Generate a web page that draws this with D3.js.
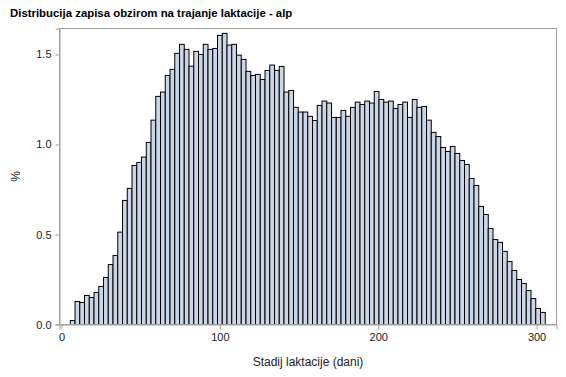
<!DOCTYPE html>
<html>
<head>
    <meta charset="utf-8">
    <script src="https://d3js.org/d3.v7.min.js"></script>
    <style>
      body { margin: 0; background: #fff; }
      text { font-family: "Liberation Sans", Arial, sans-serif; }
    </style>
</head>
<body>
    <script>
      // bin midpoints (days), each bin is 3 days wide
      const binMids = [7, 10, 13, 16, 19, 22, 25, 28, 31, 34,
        37, 40, 43, 46, 49, 52, 55, 58, 61, 64,
        67, 70, 73, 76, 79, 82, 85, 88, 91, 94,
        97, 100, 103, 106, 109, 112, 115, 118, 121, 124,
        127, 130, 133, 136, 139, 142, 145, 148, 151, 154,
        157, 160, 163, 166, 169, 172, 175, 178, 181, 184,
        187, 190, 193, 196, 199, 202, 205, 208, 211, 214,
        217, 220, 223, 226, 229, 232, 235, 238, 241, 244,
        247, 250, 253, 256, 259, 262, 265, 268, 271, 274,
        277, 280, 283, 286, 289, 292, 295, 298, 301, 304];
      const binWidth = 3;
      // percent of records in each bin
      const percents = [0.022, 0.128, 0.122, 0.161, 0.150, 0.178, 0.211, 0.261, 0.333, 0.383,
        0.513, 0.689, 0.756, 0.883, 0.900, 0.930, 1.011, 1.135, 1.267, 1.291,
        1.383, 1.417, 1.506, 1.556, 1.528, 1.435, 1.517, 1.500, 1.556, 1.528,
        1.533, 1.606, 1.617, 1.552, 1.556, 1.496, 1.472, 1.406, 1.383, 1.389,
        1.361, 1.411, 1.441, 1.411, 1.433, 1.291, 1.300, 1.206, 1.180, 1.180,
        1.156, 1.133, 1.217, 1.241, 1.230, 1.150, 1.150, 1.189, 1.156, 1.206,
        1.235, 1.222, 1.241, 1.230, 1.294, 1.250, 1.235, 1.241, 1.200, 1.222,
        1.235, 1.150, 1.250, 1.206, 1.211, 1.135, 1.067, 1.044, 0.983, 0.961,
        0.989, 0.950, 0.911, 0.889, 0.811, 0.772, 0.656, 0.611, 0.533, 0.472,
        0.456, 0.406, 0.350, 0.300, 0.250, 0.228, 0.189, 0.144, 0.089, 0.067];
      const xTicks = [0, 100, 200, 300];
      const yTicks = [0, 0.5, 1.0, 1.5];

      const width = 566, height = 377;
      const plotLeft = 59.5, plotRight = 556.5, plotTop = 28.5, plotBottom = 324.5;

      const svg = d3.select('body').append('svg')
          .attr('width', width)
          .attr('height', height);

      const x = d3.scaleLinear().domain([-1.3, 312.6]).range([plotLeft, plotRight]);
      const y = d3.scaleLinear().domain([0, 1.644]).range([plotBottom, plotTop]);

      // bars
      svg.append('g').selectAll('rect')
          .data(binMids.map((m, i) => ({ mid: m, val: percents[i] })))
          .enter().append('rect')
          .attr('x', d => x(d.mid - binWidth / 2))
          .attr('y', d => y(d.val))
          .attr('width', d => x(d.mid + binWidth / 2) - x(d.mid - binWidth / 2))
          .attr('height', d => y(0) - y(d.val))
          .attr('fill', '#cad5e5')
          .attr('stroke', '#000')
          .attr('stroke-width', 1);

      // frame
      svg.append('rect')
          .attr('x', plotLeft).attr('y', plotTop)
          .attr('width', plotRight - plotLeft).attr('height', plotBottom - plotTop)
          .attr('fill', 'none')
          .attr('stroke', '#a0a0a0');

      const xAxis = svg.append('g')
          .attr('transform', `translate(0,${plotBottom})`)
          .call(d3.axisBottom(x).tickValues(xTicks).tickSize(5).tickPadding(4).tickFormat(d3.format('d')));
      const yAxis = svg.append('g')
          .attr('transform', `translate(${plotLeft},0)`)
          .call(d3.axisLeft(y).tickValues(yTicks).tickSize(4).tickPadding(4).tickFormat(d3.format('.1f')));

      [xAxis, yAxis].forEach(g => {
        g.select('.domain').attr('stroke', '#a0a0a0');
        g.selectAll('.tick line').attr('stroke', '#a0a0a0');
        g.selectAll('.tick text')
            .attr('fill', '#222')
            .style('font-size', '11px')
            .style('font-family', '"Liberation Sans", Arial, sans-serif');
      });

      svg.append('text')
          .attr('x', 10).attr('y', 17)
          .style('font-size', '11.4px')
          .style('font-weight', 'bold')
          .attr('fill', '#000')
          .text('Distribucija zapisa obzirom na trajanje laktacije - alp');

      svg.append('text')
          .attr('x', (plotLeft + plotRight) / 2).attr('y', 366)
          .attr('text-anchor', 'middle')
          .style('font-size', '12px')
          .attr('fill', '#222')
          .text('Stadij laktacije (dani)');

      svg.append('text')
          .attr('transform', `translate(20,${(plotTop + plotBottom) / 2}) rotate(-90)`)
          .attr('text-anchor', 'middle')
          .style('font-size', '12px')
          .attr('fill', '#222')
          .text('%');
    </script>
</body>
</html>
